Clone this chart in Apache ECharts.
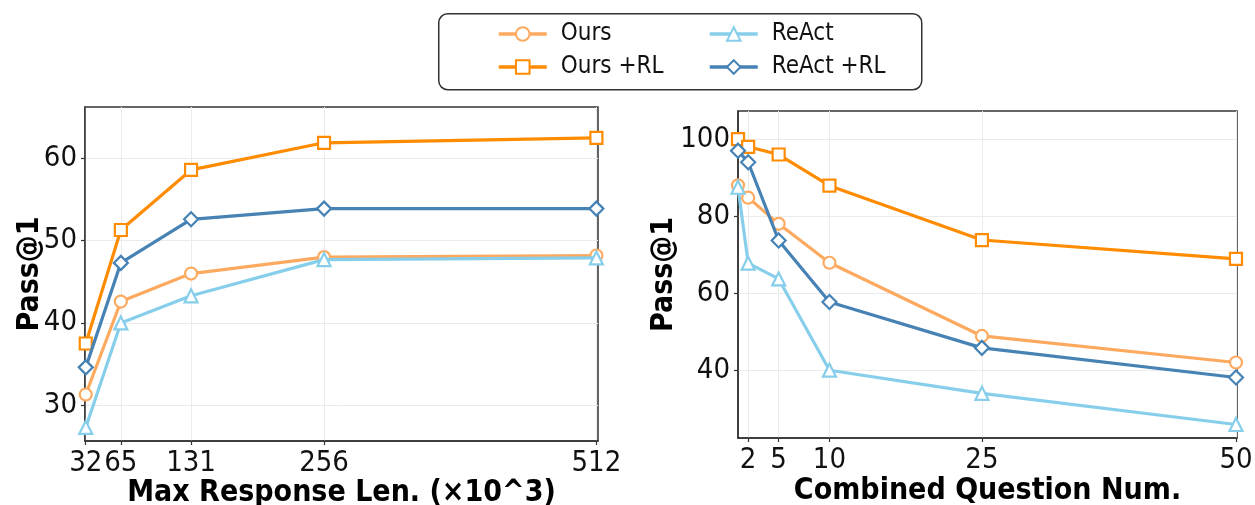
<!DOCTYPE html>
<html>
<head>
<meta charset="utf-8">
<script src="https://cdn.jsdelivr.net/npm/echarts@6/dist/echarts.min.js"></script>
<style>html,body{margin:0;padding:0;background:#fff;}#c{width:1255px;height:505px;}</style>
</head>
<body>
<div id="c"></div>
<script>
// ---- data ----
const seriesNames = ['Ours', 'Ours +RL', 'ReAct', 'ReAct +RL'];
// Left panel: Max Response Len. (x10^3)
const lenX = [32, 65, 131, 256, 512];
const lenTicks = [32, 65, 131, 256, 512];
const lenOurs = [31.3, 42.6, 46.0, 48.0, 48.2];
const lenOursRL = [37.5, 51.3, 58.6, 61.9, 62.5];
const lenReAct = [27.3, 40.0, 43.3, 47.7, 47.9];
const lenReActRL = [34.6, 47.3, 52.6, 53.9, 53.9];
const lenYTicks = [30, 40, 50, 60];
// Right panel: Combined Question Num.
const qX = [1, 2, 5, 10, 25, 50];
const qTicks = [2, 5, 10, 25, 50];
const qOurs = [88.0, 84.8, 78.0, 67.9, 48.9, 42.0];
const qOursRL = [100.0, 98.0, 96.0, 87.9, 73.8, 68.9];
const qReAct = [87.5, 67.8, 63.7, 40.0, 34.0, 25.9];
const qReActRL = [97.0, 94.0, 73.7, 57.7, 45.8, 38.1];
const qYTicks = [40, 60, 80, 100];

const colors = ['#FDAA60', '#FF8C00', '#87CEEB', '#4682B4'];
const symbols = ['circle', 'rect', 'triangle', 'diamond'];
const symSizes = [12, 12, 13, 14];
const FONT = '"DejaVu Sans Condensed", "DejaVu Sans"';

function pairs(xs, ys) { return xs.map((x, i) => [x, ys[i]]); }

function mkSeries(xi, yi, xs, lists) {
  return lists.map((ys, k) => ({
    name: seriesNames[k],
    type: 'line',
    xAxisIndex: xi, yAxisIndex: yi,
    data: pairs(xs, ys),
    color: colors[k],
    symbol: symbols[k],
    symbolSize: symSizes[k],
    showAllSymbol: true,
    clip: true,
    lineStyle: { width: 3.2, color: colors[k] },
    itemStyle: { color: '#fff', borderColor: colors[k], borderWidth: 2.2 },
    emphasis: { disabled: true },
    z: 2 + k
  }));
}

function xAxis(gi, min, max, ticks, name, nameGap) {
  return {
    type: 'value', gridIndex: gi, min: min, max: max,
    name: name, nameLocation: 'middle', nameGap: nameGap, nameMoveOverlap: false,
    nameTextStyle: { fontFamily: FONT, fontWeight: 'bold', fontSize: 30, color: '#000' },
    axisLine: { show: true, onZero: false, lineStyle: { color: '#333', width: 1.5 } },
    axisTick: { show: true, customValues: ticks, length: 4, lineStyle: { color: '#333', width: 1.2 } },
    axisLabel: { customValues: ticks, fontFamily: FONT, fontSize: 29, color: '#111', margin: 8 },
    splitLine: { show: true, lineStyle: { color: '#ebebeb', width: 1 } }
  };
}
function yAxis(gi, min, max, ticks, nameGap) {
  return {
    type: 'value', gridIndex: gi, min: min, max: max,
    name: 'Pass@1', nameLocation: 'middle', nameGap: nameGap, nameRotate: 90, nameMoveOverlap: false,
    nameTextStyle: { fontFamily: FONT, fontWeight: 'bold', fontSize: 30, color: '#000' },
    axisLine: { show: true, onZero: false, lineStyle: { color: '#333', width: 1.5 } },
    axisTick: { show: true, customValues: ticks, length: 4, lineStyle: { color: '#333', width: 1.2 } },
    axisLabel: { customValues: ticks, fontFamily: FONT, fontSize: 29, color: '#111', margin: 8 },
    splitLine: { show: true, lineStyle: { color: '#ebebeb', width: 1 } }
  };
}

const chart = echarts.init(document.getElementById('c'), null, { renderer: 'canvas' });

const legendPos = [
  { name: 'Ours', left: 497, top: 22 },
  { name: 'Ours +RL', left: 497, top: 55 },
  { name: 'ReAct', left: 708, top: 22 },
  { name: 'ReAct +RL', left: 708, top: 55 }
];

const gridBase = { show: true, borderColor: '#333', borderWidth: 1.5, backgroundColor: 'transparent', containLabel: false, outerBoundsMode: 'none' };

chart.setOption({
  animation: false,
  backgroundColor: '#fff',
  graphic: [{
    type: 'rect', left: 438, top: 13, shape: { width: 483, height: 76, r: 9 },
    style: { fill: '#fff', stroke: '#333', lineWidth: 1.5 }, z: -1
  }],
  legend: legendPos.map(p => ({
    data: [p.name], left: p.left, top: p.top, padding: 0, itemWidth: 48, itemHeight: 17, itemGap: 14,
    lineStyle: { width: 3.5 },
    textStyle: { fontFamily: FONT, fontSize: 24, color: '#111', padding: [0, 0, 0, 9] }, selectedMode: false
  })),
  grid: [
    Object.assign({ left: 85, right: 657, top: 107, bottom: 64 }, gridBase),
    Object.assign({ left: 738, right: 18, top: 111, bottom: 67 }, gridBase)
  ],
  xAxis: [
    xAxis(0, 31.3, 513.5, lenTicks, 'Max Response Len. (×10^3)', 37),
    xAxis(1, 1, 50.1, qTicks, 'Combined Question Num.', 38)
  ],
  yAxis: [
    yAxis(0, 25.65, 66.25, lenYTicks, 40),
    yAxis(1, 22.4, 107.3, qYTicks, 59)
  ],
  series: [].concat(
    mkSeries(0, 0, lenX, [lenOurs, lenOursRL, lenReAct, lenReActRL]),
    mkSeries(1, 1, qX, [qOurs, qOursRL, qReAct, qReActRL])
  )
});
</script>
</body>
</html>
